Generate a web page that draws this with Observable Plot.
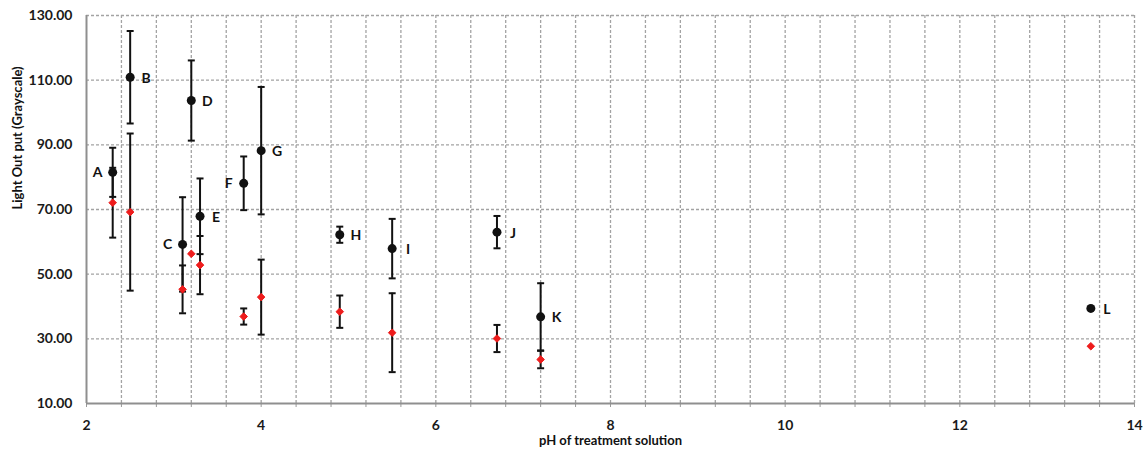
<!DOCTYPE html>
<html><head><meta charset="utf-8">
<script src="https://cdn.jsdelivr.net/npm/d3@7"></script>
<script src="https://cdn.jsdelivr.net/npm/@observablehq/plot@0.6"></script>
<style>body{margin:0;background:#fff}</style>
</head><body><div id="chart"></div>
<script>
const labels    = ["A", "B", "C", "D", "E", "F", "G", "H", "I", "J", "K", "L"];
const ph        = [2.3, 2.5, 3.1, 3.2, 3.3, 3.8, 4.0, 4.9, 5.5, 6.7, 7.2, 13.5];
const blackMean = [81.5, 110.9, 59.2, 103.7, 67.9, 78.1, 88.2, 62.2, 57.9, 63.0, 36.8, 39.4];
const blackErr  = [7.6, 14.3, 14.6, 12.4, 11.7, 8.3, 19.7, 2.5, 9.2, 5.0, 10.4, 0];
const redMean   = [72.1, 69.2, 45.3, 56.3, 52.8, 36.9, 42.9, 38.4, 31.9, 30.1, 23.6, 27.7];
const redErr    = [10.8, 24.3, 7.4, 0, 9.0, 2.5, 11.6, 5.0, 12.2, 4.2, 2.7, 0];
const xTicks    = [2, 4, 6, 8, 10, 12, 14];
const yTicks    = [10, 30, 50, 70, 90, 110, 130];
const xTitle    = "pH of treatment solution";
const yTitle    = "Light Out put (Grayscale)";
const leftLabeled = ["A", "C", "F"];

const rows = labels.map((label, i) => ({label, ph: ph[i], mean: blackMean[i], err: blackErr[i], series: "black"}))
  .concat(labels.map((label, i) => ({label, ph: ph[i], mean: redMean[i], err: redErr[i], series: "red"})));
const bars = rows.filter(d => d.err > 0);
const black = rows.filter(d => d.series === "black");
const red = rows.filter(d => d.series === "red");
const minorX = d3.range(31).map(i => 2 + i * 0.4);

const cap = {draw(ctx, size) { const r = Math.sqrt(size / Math.PI); ctx.moveTo(-r, 0); ctx.lineTo(r, 0); }};
const grid = {stroke: "#a3a3a3", strokeDasharray: "3,2", strokeWidth: 1.3};

const chart = Plot.plot({
  width: 1146, height: 456,
  marginLeft: 86, marginRight: 12, marginTop: 15, marginBottom: 53,
  x: {domain: [2, 14], label: null},
  y: {domain: [10, 130], label: null},
  style: {fontFamily: "Lato, sans-serif", fontSize: "14px", fontWeight: "bold", color: "#1a1a1a", background: "#fff"},
  marks: [
    Plot.ruleX(minorX.slice(1), {...grid}),
    Plot.ruleY(yTicks.slice(1), {...grid}),
    Plot.axisX({ticks: minorX, tickSize: 4, tickFormat: () => "", stroke: "#999", label: null}),
    Plot.ruleX([2], {stroke: "#8f8f8f", strokeWidth: 2}),
    Plot.ruleY([10], {stroke: "#8f8f8f", strokeWidth: 2}),
    Plot.axisX({ticks: xTicks, tickSize: 0, tickPadding: 17, tickFormat: d => String(d), label: null}),
    Plot.axisY({ticks: yTicks, tickSize: 0, tickPadding: 14, tickFormat: d => d.toFixed(2), label: null}),
    Plot.ruleX(bars, {x: "ph", y1: d => d.mean - d.err, y2: d => d.mean + d.err, stroke: "#111", strokeWidth: 2}),
    Plot.dot(bars, {x: "ph", y: d => d.mean - d.err, symbol: cap, r: 3.5, stroke: "#111", strokeWidth: 2}),
    Plot.dot(bars, {x: "ph", y: d => d.mean + d.err, symbol: cap, r: 3.5, stroke: "#111", strokeWidth: 2}),
    Plot.dot(black, {x: "ph", y: "mean", r: 4.5, fill: "#111", stroke: "none"}),
    Plot.dot(red, {x: "ph", y: "mean", r: 3.4, symbol: "diamond2", fill: "#ee1c1c", stroke: "#ee1c1c", strokeWidth: 1, strokeLinejoin: "round"}),
    Plot.text(black.filter(d => !leftLabeled.includes(d.label)), {x: "ph", y: "mean", text: "label", dx: 16, dy: 1, fill: "#111", fontSize: 14}),
    Plot.text(black.filter(d => leftLabeled.includes(d.label)), {x: "ph", y: "mean", text: "label", dx: -15, fill: "#111", fontSize: 14}),
    Plot.text([xTitle], {frameAnchor: "bottom", dy: 41, fill: "#111", fontSize: 13}),
    Plot.text([yTitle], {frameAnchor: "left", dx: -69, rotate: -90, fill: "#111", fontSize: 13})
  ]
});
document.getElementById("chart").append(chart);
</script>
</body></html>
